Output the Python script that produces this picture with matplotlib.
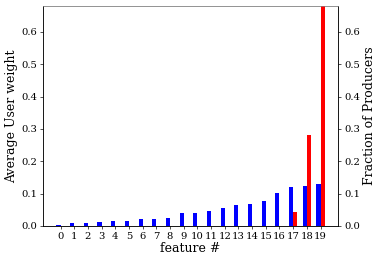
import matplotlib
matplotlib.use("Agg")
import matplotlib.pyplot as plt
import numpy as np

features = list(range(20))
user_weight = [0.004, 0.008, 0.009, 0.013, 0.014, 0.016, 0.022, 0.022, 0.025, 0.040,
               0.041, 0.047, 0.056, 0.065, 0.069, 0.078, 0.102, 0.121, 0.124, 0.130]
producers = [0, 0, 0, 0, 0, 0, 0, 0, 0, 0,
             0, 0, 0, 0, 0, 0, 0, 0.042, 0.282, 0.75]

plt.rcParams['font.family'] = ['DejaVu Serif']
DPI = 60
fig = plt.figure(figsize=(382 / DPI, 263 / DPI), dpi=DPI)
ax = fig.add_axes([0.1126, 0.1407, 0.7724, 0.8363])
w = 0.3
x = np.array(features)
ax.bar(x - w / 2, user_weight, width=w, color='blue')
ax.set_ylim(0, 0.68)
ax.set_xlim(-1.28, 20.28)
ax.set_xticks(x)
ax.set_xticklabels([str(f) for f in features], fontsize=12)
ax.tick_params(axis='y', labelsize=12)
ax.set_ylabel('Average User weight', fontsize=15)
ax.set_xlabel('feature #', fontsize=15, labelpad=2)
ax2 = ax.twinx()
ax2.bar(x + w / 2, producers, width=w, color='red')
ax2.set_ylim(0, 0.68)
ax2.set_xlim(-1.28, 20.28)
ax2.tick_params(axis='y', labelsize=12)
ax2.set_ylabel('Fraction of Producers', fontsize=15)
for a in (ax, ax2):
    a.set_yticks([0, 0.1, 0.2, 0.3, 0.4, 0.5, 0.6])
    a.spines['top'].set_color('#888888')
fig.savefig('out.png', dpi=DPI)
